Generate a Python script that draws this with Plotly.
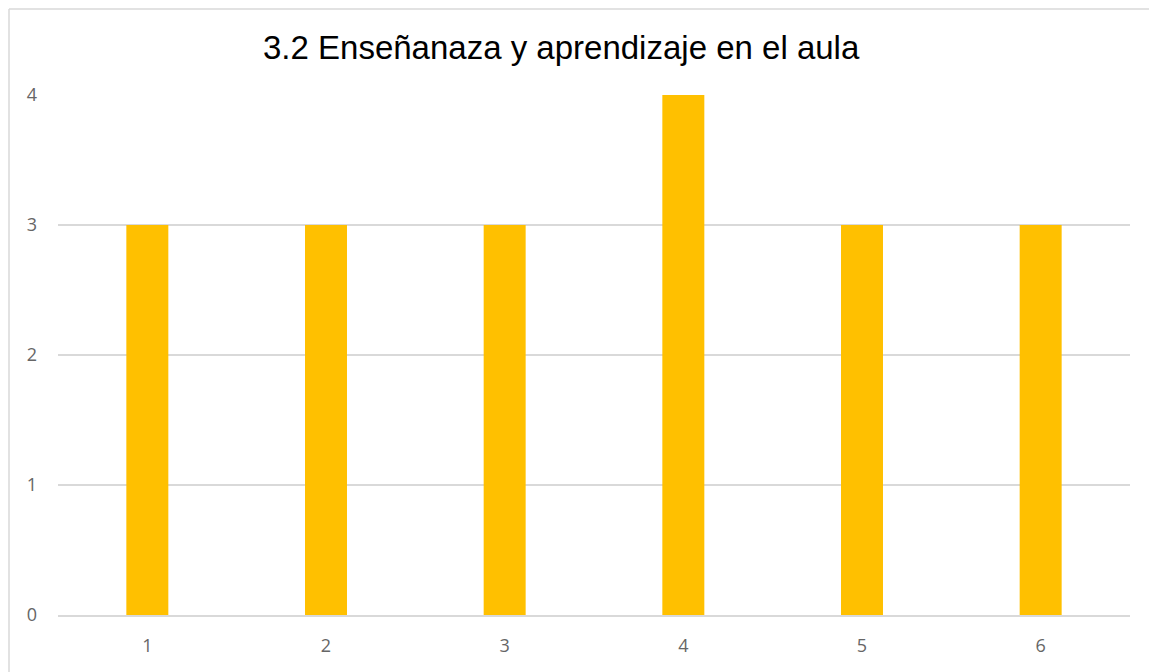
import plotly.graph_objects as go

categories = ["1", "2", "3", "4", "5", "6"]
values = [3, 3, 3, 4, 3, 3]
y_ticks = [0, 1, 2, 3, 4]
title_text = "3.2 Enseñanaza y aprendizaje en el aula"

# page body has an 8px default margin; compensate so the plot lands where the reference has it
OFF = 8
W, H = 1157 - OFF, 672 - OFF
L, R, T, B = 58 - OFF, 27, 95 - OFF, 57
pw = W - L - R
ph = H - T - B

fig = go.Figure()
fig.add_trace(go.Bar(
    x=categories, y=values,
    marker=dict(color="#FFC000", line=dict(width=0)),
    width=0.235,
    hoverinfo="x+y",
))

tick_font = dict(size=18, family="Open Sans, Liberation Sans, sans-serif", color="#666666")

bx0 = (1 - L) / pw
by1 = (H - B - 1) / ph
by0 = -(B + 20) / ph
bx1 = (W + 20 - L) / pw
border = dict(color="#D9D9D9", width=1.5)

fig.update_layout(
    width=W, height=H,
    margin=dict(l=L, r=R, t=T, b=B),
    paper_bgcolor="white", plot_bgcolor="white",
    showlegend=False,
    font=dict(family="Liberation Sans, Arial, sans-serif", color="#595959"),
    xaxis=dict(
        type="category", showgrid=False, zeroline=False,
        showline=True, linecolor="#D9D9D9", linewidth=1.5,
        ticks="", tickfont=tick_font,
        ticklabelstandoff=14,
    ),
    yaxis=dict(
        range=[0, 4], tickvals=y_ticks, showgrid=True, gridcolor="#D9D9D9", gridwidth=1.5,
        zeroline=False, showline=False, ticks="",
        tickfont=tick_font,
        ticklabelstandoff=20,
    ),
    shapes=[
        dict(type="line", xref="paper", yref="paper", x0=bx0, x1=bx1, y0=by1, y1=by1, line=border),
        dict(type="line", xref="paper", yref="paper", x0=bx0, x1=bx0, y0=by0, y1=by1, line=border),
    ],
    annotations=[dict(
        text=title_text, xref="paper", yref="paper",
        x=(561 - 58) / pw, y=(615 - 47) / ph,
        xanchor="center", yanchor="middle", showarrow=False,
        font=dict(size=33, family="Liberation Sans, Arial, sans-serif", color="#000000"),
    )],
)

fig.write_html("out.html")
